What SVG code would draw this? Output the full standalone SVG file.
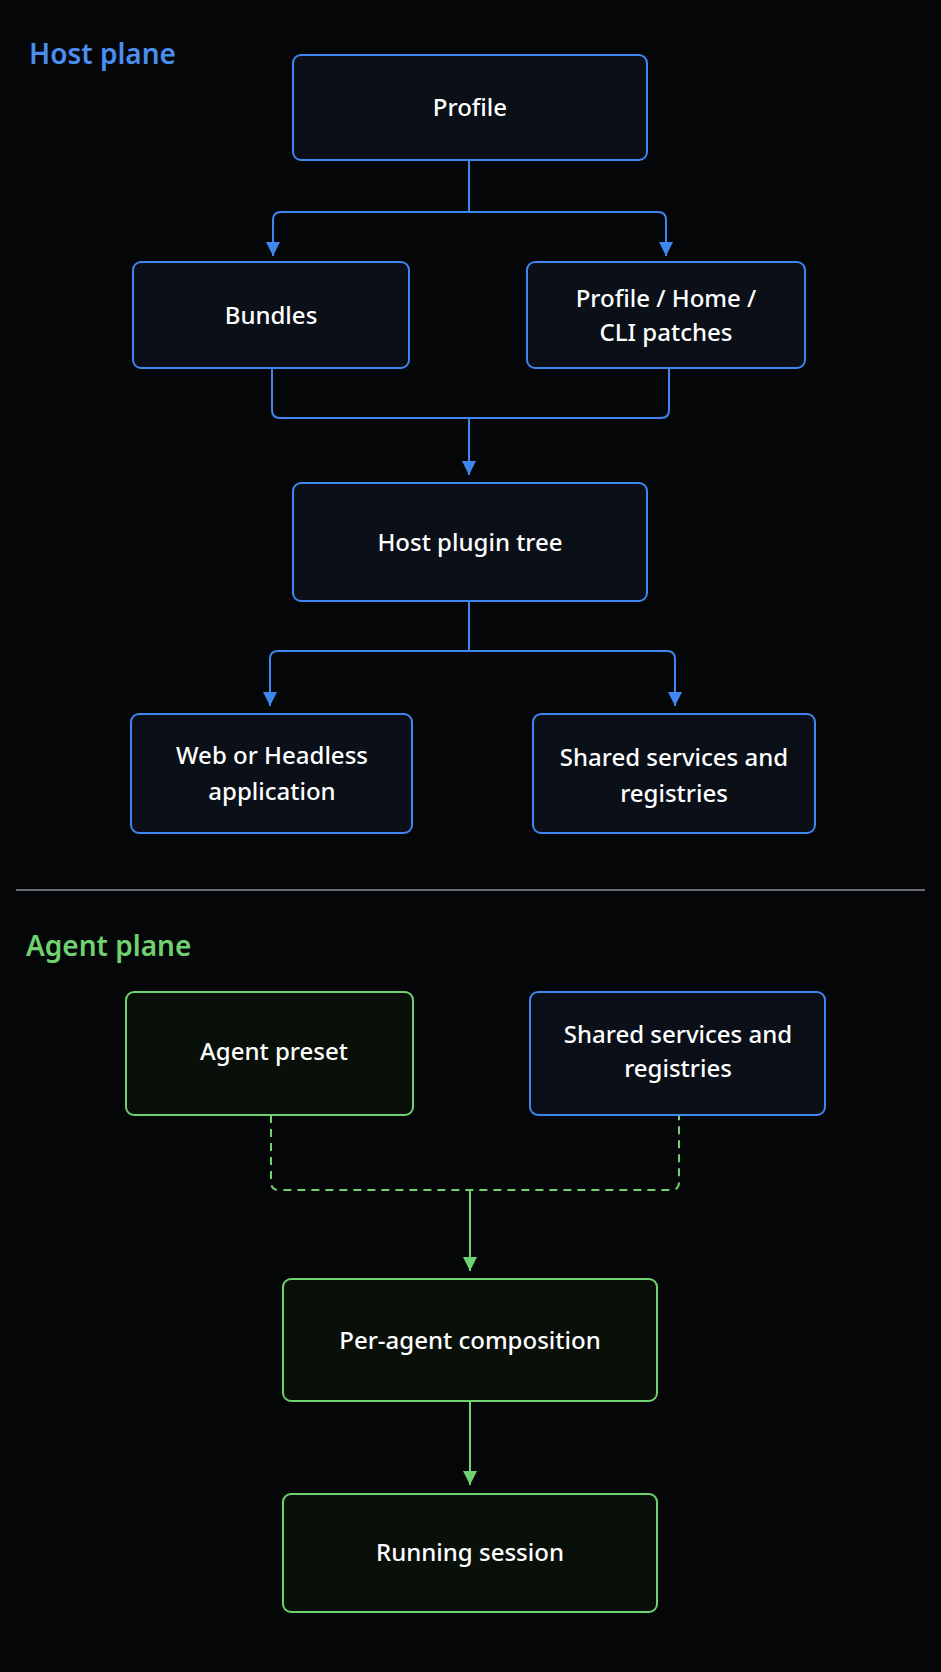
<svg xmlns="http://www.w3.org/2000/svg" width="941" height="1672" viewBox="0 0 941 1672">
<defs>
<marker id="ab" viewBox="0 0 10 10" refX="10" refY="5" markerWidth="14" markerHeight="14" markerUnits="userSpaceOnUse" orient="auto"><path d="M0,0 L10,5 L0,10 z" fill="#3f86ee"/></marker>
<marker id="ag" viewBox="0 0 10 10" refX="10" refY="5" markerWidth="14" markerHeight="14" markerUnits="userSpaceOnUse" orient="auto"><path d="M0,0 L10,5 L0,10 z" fill="#6fd16f"/></marker>
</defs>
<style>
.b{fill:#0a0f18;stroke:#3f86ee;stroke-width:2}
.g{fill:#09100a;stroke:#6fd16f;stroke-width:2}
.t{font-family:"Noto Sans","DejaVu Sans",sans-serif;font-size:24px;fill:#fff;text-anchor:middle;font-weight:500}
.h{font-family:"Noto Sans","DejaVu Sans",sans-serif;font-size:28px;font-weight:600}
.cb{fill:none;stroke:#3f86ee;stroke-width:2}
.cg{fill:none;stroke:#6fd16f;stroke-width:2}
</style>
<rect width="941" height="1672" fill="#050608"/>
<text x="29" y="64" class="h" fill="#4a8ef0">Host plane</text>
<line x1="16" y1="890" x2="925" y2="890" stroke="#8a8f96" stroke-width="1.5"/>
<text x="26" y="956" class="h" fill="#6fd16f">Agent plane</text>
<g id="connectors">
<path class="cb" d="M469,160 V212 H281 Q273,212 273,220 V256" marker-end="url(#ab)"/>
<path class="cb" d="M469,212 H658 Q666,212 666,220 V256" marker-end="url(#ab)"/>
<path class="cb" d="M272,368 V410 Q272,418 280,418 H661 Q669,418 669,410 V368"/>
<path class="cb" d="M469,418 V475" marker-end="url(#ab)"/>
<path class="cb" d="M469,601 V651 H278 Q270,651 270,659 V706" marker-end="url(#ab)"/>
<path class="cb" d="M469,651 H667 Q675,651 675,659 V706" marker-end="url(#ab)"/>
<path class="cg" stroke-dasharray="8,6" d="M271,1115 V1182 Q271,1190 279,1190 H671 Q679,1190 679,1182 V1115"/>
<path class="cg" d="M470,1190 V1271" marker-end="url(#ag)"/>
<path class="cg" d="M470,1401 V1485" marker-end="url(#ag)"/>
</g>
<g id="profile"><rect class="b" x="293" y="55" width="354" height="105" rx="8"/><text class="t" x="470" y="116">Profile</text></g>
<g id="bundles"><rect class="b" x="133" y="262" width="276" height="106" rx="8"/><text class="t" x="271" y="324">Bundles</text></g>
<g id="patches"><rect class="b" x="527" y="262" width="278" height="106" rx="8"/><text class="t" x="666" y="307">Profile / Home /</text><text class="t" x="666" y="341">CLI patches</text></g>
<g id="hosttree"><rect class="b" x="293" y="483" width="354" height="118" rx="8"/><text class="t" x="470" y="551">Host plugin tree</text></g>
<g id="webapp"><rect class="b" x="131" y="714" width="281" height="119" rx="8"/><text class="t" x="272" y="764">Web or Headless</text><text class="t" x="272" y="800">application</text></g>
<g id="shared1"><rect class="b" x="533" y="714" width="282" height="119" rx="8"/><text class="t" x="674" y="766">Shared services and</text><text class="t" x="674" y="802">registries</text></g>
<g id="preset"><rect class="g" x="126" y="992" width="287" height="123" rx="8"/><text class="t" x="274" y="1060">Agent preset</text></g>
<g id="shared2"><rect class="b" x="530" y="992" width="295" height="123" rx="8"/><text class="t" x="678" y="1043">Shared services and</text><text class="t" x="678" y="1077">registries</text></g>
<g id="peragent"><rect class="g" x="283" y="1279" width="374" height="122" rx="8"/><text class="t" x="470" y="1349">Per-agent composition</text></g>
<g id="session"><rect class="g" x="283" y="1494" width="374" height="118" rx="8"/><text class="t" x="470" y="1561">Running session</text></g>
</svg>
